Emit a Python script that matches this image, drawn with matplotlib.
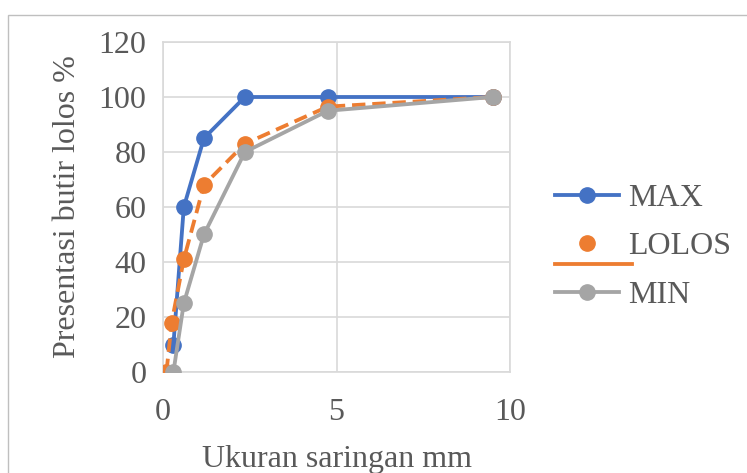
import matplotlib.pyplot as plt
from matplotlib.patches import Rectangle
from matplotlib.legend_handler import HandlerLine2DCompound

# ukuran saringan (mm) dan persen lolos
x_max = [0.3, 0.6, 1.18, 2.36, 4.75, 9.5]
y_max = [10, 60, 85, 100, 100, 100]
x_lolos = [0.1, 0.25, 0.6, 1.18, 2.36, 4.75, 9.5]
y_lolos = [0, 18, 41, 68, 83, 96.5, 100]
x_min = [0.3, 0.6, 1.18, 2.36, 4.75, 9.5]
y_min = [0, 25, 50, 80, 95, 100]

txt = '#595959'
grid = '#d9d9d9'
fs = 23
plt.rcParams['font.family'] = ['Liberation Serif', 'DejaVu Serif']


class LolosHandler(HandlerLine2DCompound):
    # Excel-style entry: marker on top, solid line underneath
    def create_artists(self, legend, orig, xd, yd, w, h, fontsize, trans):
        arts = super().create_artists(legend, orig, xd, yd, w, h, fontsize, trans)
        line = arts[0]
        line.set_linestyle('-')
        line.set_xdata([0, w + 10])
        line.set_ydata([y - 0.95 * h for y in line.get_ydata()])
        return arts


fig = plt.figure(figsize=(7.47, 4.73), dpi=100)
fig.patches.append(Rectangle((8/747, -0.1), 1.1, 1 - 15/473 + 0.1, transform=fig.transFigure,
                             fill=False, edgecolor='#bfbfbf', lw=1))
ax = fig.add_axes([163/747, 1 - 372/473, (510-163)/747, (372-42)/473])

ax.plot(x_max, y_max, color='#4472C4', lw=2.75, marker='o', ms=11, label='MAX', zorder=3)
lolos, = ax.plot(x_lolos, y_lolos, color='#ED7D31', lw=2.75, ls=(0, (3.5, 1.8)), marker='o',
                 ms=11, label='LOLOS', zorder=3)
ax.plot(x_min, y_min, color='#A5A5A5', lw=2.75, marker='o', ms=11, label='MIN', zorder=4)

ax.set_xlim(0, 10)
ax.set_ylim(0, 120)
ax.set_xticks([0, 5, 10])
ax.set_yticks(range(0, 121, 20))
ax.grid(True, color=grid, lw=1.2)
ax.set_axisbelow(True)
for s in ax.spines.values():
    s.set_color(grid)
    s.set_linewidth(1.2)
ax.tick_params(length=0, labelsize=fs, colors=txt, pad=12)
ax.tick_params(axis='x', pad=19)
ax.set_xlabel('Ukuran saringan mm', fontsize=fs, color=txt, labelpad=13)
ax.set_ylabel('Presentasi butir lolos %', fontsize=fs, color=txt, labelpad=12)

leg = ax.legend(loc='center left', frameon=False, fontsize=fs, labelspacing=0.6,
                handlelength=2.0, handletextpad=0.3, borderaxespad=0,
                handler_map={lolos: LolosHandler()})
leg.set_bbox_to_anchor((1.092, 0.38), transform=ax.transAxes)
for t in leg.get_texts():
    t.set_color(txt)

fig.savefig('out.png', dpi=100)
